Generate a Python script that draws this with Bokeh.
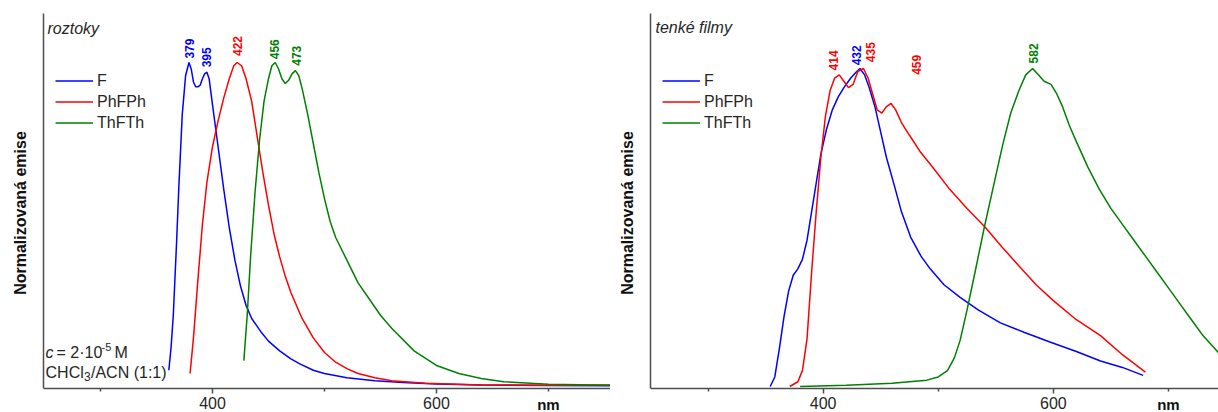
import math
from bokeh.plotting import figure
from bokeh.layouts import row
from bokeh.models import FixedTicker, Label, ColumnDataSource, Legend, LegendItem
from bokeh.core.properties import value
from bokeh.embed import file_html
from bokeh.resources import INLINE

FONT = "Liberation Sans"
C_BLUE, C_RED, C_GREEN = "#0000ff", "#ff0000", "#008000"
series_names = ["F", "PhFPh", "ThFTh"]

# ---------------- roztoky (solutions) ----------------
sol_F_nm = [361, 363, 365, 368, 370, 373, 376, 379, 381, 383, 385, 387, 389, 391, 393, 395, 397, 400,
            405, 410, 415, 420, 425, 430, 435, 443, 450, 460, 470, 478, 490, 500, 520, 545, 570, 600,
            640, 700, 755]
sol_F_val = [0.05, 0.12, 0.22, 0.45, 0.62, 0.84, 0.96, 1.0, 0.98, 0.94, 0.925, 0.925, 0.93, 0.95, 0.965, 0.97,
             0.95, 0.87, 0.74, 0.61, 0.49, 0.39, 0.31, 0.25, 0.21, 0.17, 0.14, 0.11, 0.085, 0.07, 0.05, 0.04,
             0.027, 0.018, 0.012, 0.008, 0.005, 0.003, 0.002]

sol_PhFPh_nm = [380, 383, 387, 391, 395, 400, 405, 410, 415, 419, 422, 426, 430, 435, 440, 445, 450, 455,
                460, 465, 470, 480, 490, 500, 510, 520, 530, 545, 560, 590, 640, 700, 755]
sol_PhFPh_val = [0.04, 0.15, 0.33, 0.5, 0.63, 0.74, 0.82, 0.89, 0.95, 0.99, 1.0, 0.99, 0.95, 0.88, 0.77, 0.66,
                 0.56, 0.47, 0.4, 0.34, 0.29, 0.21, 0.15, 0.105, 0.075, 0.055, 0.04, 0.027, 0.018, 0.01,
                 0.005, 0.004, 0.005]

sol_ThFTh_nm = [428, 431, 434, 438, 442, 446, 450, 453, 456, 459, 462, 465, 468, 471, 474, 477, 480, 485,
                490, 495, 500, 505, 510, 520, 530, 540, 550, 560, 580, 600, 620, 640, 660, 700, 755]
sol_ThFTh_val = [0.08, 0.22, 0.4, 0.6, 0.76, 0.88, 0.95, 0.99, 1.0, 0.98, 0.95, 0.935, 0.945, 0.965, 0.975,
                 0.96, 0.92, 0.84, 0.75, 0.66, 0.58, 0.51, 0.46, 0.39, 0.32, 0.27, 0.22, 0.18, 0.11, 0.065,
                 0.04, 0.025, 0.015, 0.007, 0.004]

sol_peak_text = ["379", "395", "422", "456", "473"]
sol_peak_x = [379.5, 394.6, 422.3, 455.4, 475.0]
sol_peak_y = [1.012, 0.985, 1.02, 1.01, 0.99]
sol_peak_color = [C_BLUE, C_BLUE, C_RED, C_GREEN, C_GREEN]

# ---------------- tenké filmy (thin films) ----------------
film_F_nm = [354, 358, 362, 366, 370, 374, 378, 382, 386, 390, 394, 398, 403, 408, 413, 418, 424, 429, 432,
             436, 440, 445, 450, 455, 462, 468, 476, 485, 493, 505, 519, 535, 554, 575, 597, 620, 641,
             660, 678]
film_F_val = [0.0, 0.03, 0.12, 0.22, 0.3, 0.35, 0.37, 0.4, 0.46, 0.55, 0.64, 0.73, 0.81, 0.87, 0.91, 0.94,
              0.97, 0.99, 1.0, 0.98, 0.94, 0.88, 0.8, 0.72, 0.63, 0.55, 0.47, 0.41, 0.37, 0.32, 0.28, 0.24,
              0.2, 0.17, 0.14, 0.11, 0.08, 0.06, 0.035]

film_PhFPh_nm = [371, 378, 382, 386, 390, 394, 398, 402, 406, 410, 414, 418, 422, 426, 430, 435, 439, 443,
                 447, 451, 455, 459, 463, 468, 475, 484, 495, 510, 525, 541, 555, 570, 585, 600, 620, 641,
                 660, 680]
film_PhFPh_val = [0.0, 0.015, 0.05, 0.15, 0.36, 0.55, 0.72, 0.85, 0.93, 0.97, 0.98, 0.96, 0.94, 0.95, 0.99,
                  1.0, 0.97, 0.92, 0.87, 0.86, 0.88, 0.89, 0.87, 0.83, 0.79, 0.74, 0.69, 0.62, 0.56, 0.5,
                  0.44, 0.38, 0.32, 0.27, 0.21, 0.16, 0.1, 0.045]

film_ThFTh_nm = [380, 420, 460, 490, 500, 508, 514, 519, 525, 532, 540, 548, 556, 563, 570, 576, 582, 587,
                 592, 598, 603, 608, 614, 620, 630, 640, 650, 660, 670, 680, 690, 700, 710, 720, 730, 745]
film_ThFTh_val = [0.0, 0.004, 0.01, 0.02, 0.03, 0.05, 0.09, 0.145, 0.24, 0.36, 0.5, 0.63, 0.76, 0.86, 0.93,
                  0.98, 1.0, 0.98, 0.96, 0.95, 0.92, 0.88, 0.82, 0.77, 0.69, 0.62, 0.56, 0.51, 0.46, 0.41,
                  0.36, 0.31, 0.26, 0.21, 0.16, 0.1]

film_peak_text = ["414", "432", "435", "459", "582"]
film_peak_x = [408.7, 428.7, 440.9, 480.9, 582.6]
film_peak_y = [0.994, 1.01, 1.02, 0.98, 1.016]
film_peak_color = [C_RED, C_BLUE, C_RED, C_RED, C_GREEN]

x_major = [200, 400, 600, 800]
x_minor = [300, 500, 700]


def make_panel(border_left, frame_width, x_range, px_per_unit, curves, peaks, title, extra_texts=()):
    # pixel geometry: frame spans y 13..412, zero level at y=386, x axis line at y=388
    top, bottom, zero_px, axis_px = 13, 412, 386, 388
    y_end = (zero_px - top) / px_per_unit
    y_start = -(bottom - zero_px) / px_per_unit
    y_axis = -(axis_px - zero_px) / px_per_unit
    y_nm = -(403.5 - zero_px) / px_per_unit

    p = figure(frame_width=frame_width, frame_height=bottom - top,
               x_range=x_range, y_range=(y_start, y_end), output_backend="svg",
               toolbar_location=None, min_border_left=border_left, min_border_right=0,
               min_border_top=top, min_border_bottom=0)
    p.outline_line_color = None
    p.grid.visible = False
    p.background_fill_color = "white"
    p.border_fill_color = "white"

    xa = p.xaxis[0]
    xa.fixed_location = y_axis
    xa.ticker = FixedTicker(ticks=x_major, minor_ticks=x_minor)
    xa.axis_line_color = "#4d4d4d"
    xa.axis_line_width = 1.5
    xa.major_tick_line_color = "#4d4d4d"
    xa.minor_tick_line_color = "#4d4d4d"
    xa.major_tick_line_width = 1.5
    xa.minor_tick_line_width = 1.5
    xa.major_tick_in = 0
    xa.major_tick_out = 5
    xa.minor_tick_in = 0
    xa.minor_tick_out = 3
    xa.major_label_text_font = FONT
    xa.major_label_text_font_size = "16px"
    xa.major_label_text_color = "#262626"
    xa.major_label_standoff = 3

    ya = p.yaxis[0]
    ya.ticker = FixedTicker(ticks=[])
    ya.bounds = (y_axis, y_end)
    ya.axis_line_color = "#4d4d4d"
    ya.axis_line_width = 1.5
    ya.major_tick_out = 0
    ya.major_tick_in = 0
    ya.axis_label = "Normalizovaná emise"
    ya.axis_label_text_font = FONT
    ya.axis_label_text_font_style = "bold"
    ya.axis_label_text_font_size = "16px"
    ya.axis_label_text_color = "#111111"
    ya.axis_label_standoff = 15

    items = []
    for name, xs, ys, col in curves:
        r = p.line(xs, ys, line_color=col, line_width=1.5)
        items.append(LegendItem(label=name, renderers=[r]))
    leg = Legend(items=items, location=(12, 279), padding=0, margin=0, spacing=0,
                 label_height=21, glyph_height=21, glyph_width=38, label_standoff=4,
                 border_line_color=None, background_fill_alpha=0,
                 label_text_font=FONT, label_text_font_size="16px", label_text_color="#262626")
    p.add_layout(leg)

    src = ColumnDataSource(dict(x=peaks[1], y=peaks[2], t=peaks[0], c=peaks[3]))
    p.text(x="x", y="y", text="t", text_color="c", source=src, angle=math.pi / 2,
           text_align="left", text_baseline="middle", text_font=value(FONT),
           text_font_style="bold", text_font_size="12px")

    tx, ty, tt = title
    p.add_layout(Label(x=tx, y=ty, text=tt, text_font=FONT, text_font_style="italic",
                       text_font_size="16px", text_color="#262626", text_baseline="middle"))
    p.add_layout(Label(x=700, y=y_nm, text="nm", text_font=FONT, text_font_style="bold",
                       text_font_size="15px", text_line_height=1.0, text_color="#111111",
                       text_align="center", text_baseline="middle"))
    for (ex, ey, et, style, size) in extra_texts:
        p.add_layout(Label(x=ex, y=ey, text=et, text_font=FONT, text_font_style=style,
                           text_font_size=size, text_color="#262626", text_baseline="middle"))
    return p


p1 = make_panel(
    43, 567, (249.1, 755.4), 324.0,
    [(series_names[0], sol_F_nm, sol_F_val, C_BLUE),
     (series_names[1], sol_PhFPh_nm, sol_PhFPh_val, C_RED),
     (series_names[2], sol_ThFTh_nm, sol_ThFTh_val, C_GREEN)],
    (sol_peak_text, sol_peak_x, sol_peak_y, sol_peak_color),
    (252.7, 1.105, "roztoky"),
    extra_texts=[(250.9, 0.105, "c", "italic", "16px"),
                 (260.7, 0.105, "= 2·10", "normal", "16px"),
                 (300.9, 0.121, "-5", "normal", "11px"),
                 (312.5, 0.105, "M", "normal", "16px"),
                 (250.9, 0.043, "CHCl", "normal", "16px"),
                 (285.3, 0.031, "3", "normal", "12px"),
                 (291.5, 0.043, "/ACN (1:1)", "normal", "16px")])

p2 = make_panel(
    40, 568, (250.0, 743.5), 318.0,
    [(series_names[0], film_F_nm, film_F_val, C_BLUE),
     (series_names[1], film_PhFPh_nm, film_PhFPh_val, C_RED),
     (series_names[2], film_ThFTh_nm, film_ThFTh_val, C_GREEN)],
    (film_peak_text, film_peak_x, film_peak_y, film_peak_color),
    (254.3, 1.129, "tenké filmy"))

layout = row(p1, p2, spacing=0)
open("out.html", "w").write(file_html(layout, INLINE))
